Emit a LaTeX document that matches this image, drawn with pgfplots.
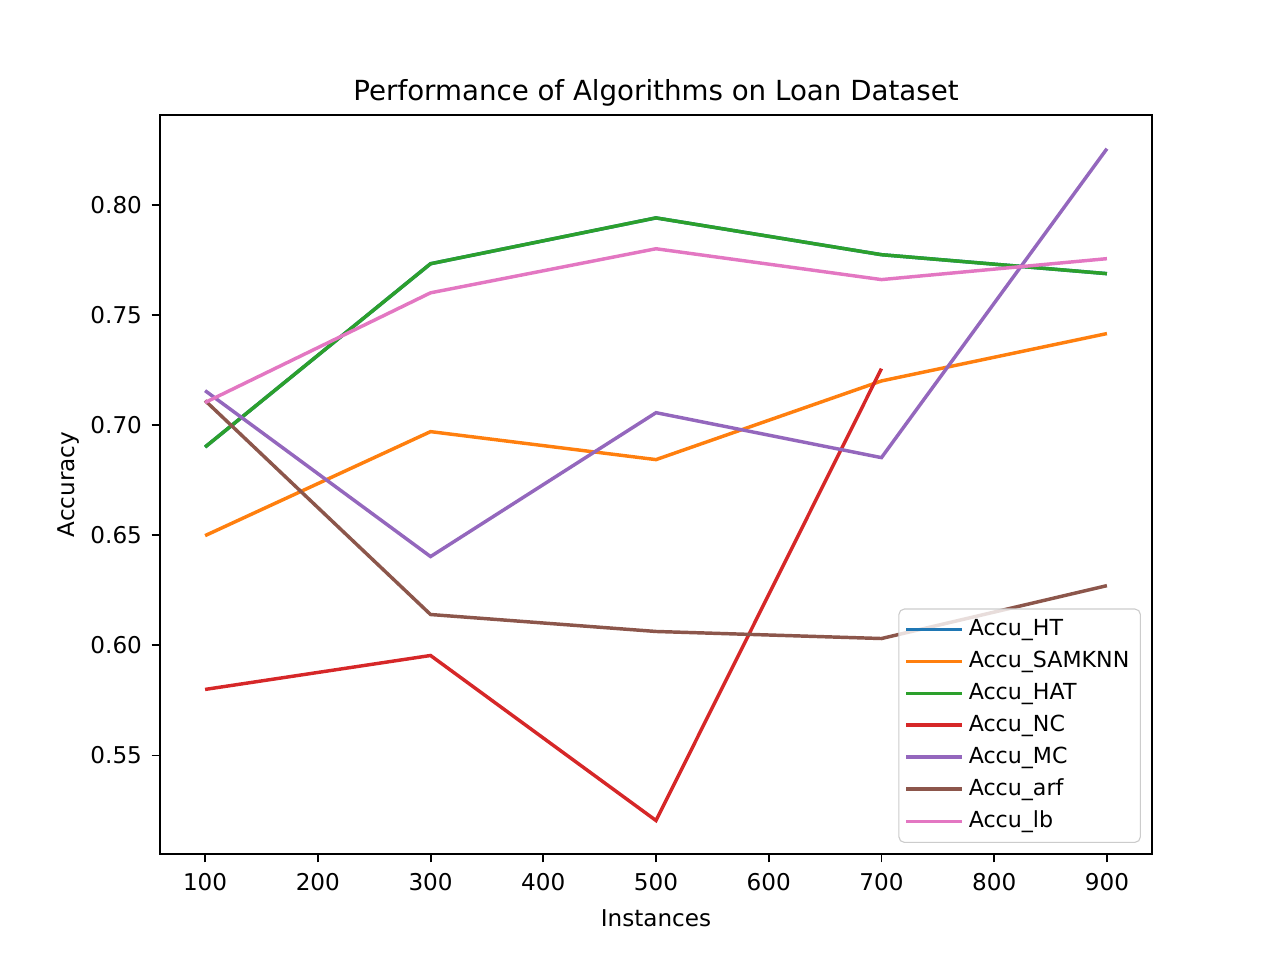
\documentclass[border=0pt]{standalone}
\usepackage{pgfplots}
\pgfplotsset{compat=1.18}
\usepackage{fontspec}
\setmainfont{DejaVu Sans}
\definecolor{c0}{HTML}{1F77B4}
\definecolor{c1}{HTML}{FF7F0E}
\definecolor{c2}{HTML}{2CA02C}
\definecolor{c3}{HTML}{D62728}
\definecolor{c4}{HTML}{9467BD}
\definecolor{c5}{HTML}{8C564B}
\definecolor{c6}{HTML}{E377C2}
\begin{document}
\begin{tikzpicture}
\begin{axis}[
  scale only axis,
  width=4.96in, height=3.695in,
  xmin=60, xmax=940, ymin=0.5053, ymax=0.8407,
  xtick={100,200,...,900},
  ytick={0.55,0.60,0.65,0.70,0.75,0.80},
  yticklabel style={/pgf/number format/.cd,fixed,fixed zerofill,precision=2},
  /pgf/number format/assume math mode=true,
  tick align=outside, tick pos=left,
  major tick length=3pt,
  tick style={black, line width=0.7pt},
  axis line style={line width=0.7pt},
  ticklabel style={font=\fontsize{8.35}{10}\selectfont},
  xticklabel style={yshift=-0.3pt},
  scaled y ticks=false,
  title={Performance of Algorithms on Loan Dataset},
  title style={font=\fontsize{10}{12}\selectfont, yshift=-6.3pt},
  xlabel={Instances}, ylabel={Accuracy},
  label style={font=\fontsize{8.35}{10}\selectfont},
  xlabel style={yshift=0pt},
  ylabel style={yshift=-3pt},
  every axis plot/.append style={line width=1.25pt},
  legend cell align=left,
  legend style={at={(1,0)}, anchor=south east, xshift=-4pt, yshift=4pt,
    draw=black!20, fill=white, fill opacity=0.8, text opacity=1,
    rounded corners=2pt, font=\fontsize{8}{10}\selectfont,
    row sep=0.1pt, inner xsep=2pt, inner ysep=1.8pt},
  legend image code/.code={\draw[#1] (0pt,0pt) -- (17pt,0pt); \path (0pt,0pt) -- (20pt,0pt);},
]
\addplot[c0] coordinates {(100,0.690) (300,0.7732) (500,0.794) (700,0.7773) (900,0.7687)};
\addlegendentry{Accu\_HT}
\addplot[c1] coordinates {(100,0.6498) (300,0.697) (500,0.6843) (700,0.720) (900,0.7415)};
\addlegendentry{Accu\_SAMKNN}
\addplot[c2] coordinates {(100,0.690) (300,0.7732) (500,0.794) (700,0.7773) (900,0.7687)};
\addlegendentry{Accu\_HAT}
\addplot[c3] coordinates {(100,0.580) (300,0.5954) (500,0.5205) (700,0.7256)};
\addlegendentry{Accu\_NC}
\addplot[c4] coordinates {(100,0.7156) (300,0.6403) (500,0.7056) (700,0.6852) (900,0.8254)};
\addlegendentry{Accu\_MC}
\addplot[c5] coordinates {(100,0.7111) (300,0.614) (500,0.6063) (700,0.6031) (900,0.6271)};
\addlegendentry{Accu\_arf}
\addplot[c6] coordinates {(100,0.7102) (300,0.760) (500,0.780) (700,0.766) (900,0.7755)};
\addlegendentry{Accu\_lb}
\end{axis}
\path ([shift={(-0.8in,-0.53in)}]current axis.south west) rectangle ([shift={(0.64in,0.575in)}]current axis.north east);
\end{tikzpicture}
\end{document}
